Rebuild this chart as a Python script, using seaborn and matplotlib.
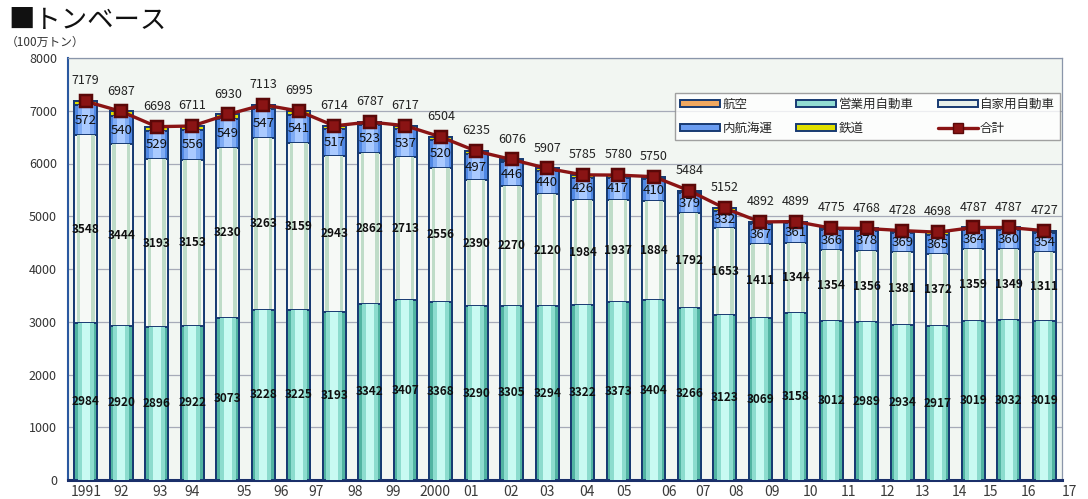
import matplotlib
matplotlib.use("Agg")
import matplotlib.pyplot as plt
from matplotlib.patches import Patch
from matplotlib.lines import Line2D
import seaborn as sns
import numpy as np
import pandas as pd

# ---- data (100万トン) ----
periods = [str(y) for y in range(1991, 2019)]
commercial = [2984, 2920, 2896, 2922, 3073, 3228, 3225, 3193, 3342, 3407, 3368, 3290, 3305, 3294,
              3322, 3373, 3404, 3266, 3123, 3069, 3158, 3012, 2989, 2934, 2917, 3019, 3032, 3019]
private = [3548, 3444, 3193, 3153, 3230, 3263, 3159, 2943, 2862, 2713, 2556, 2390, 2270, 2120,
           1984, 1937, 1884, 1792, 1653, 1411, 1344, 1354, 1356, 1381, 1372, 1359, 1349, 1311]
coastal = [572, 540, 529, 556, 549, 547, 541, 517, 523, 537, 520, 497, 446, 440,
           426, 417, 410, 379, 332, 367, 361, 366, 378, 369, 365, 364, 360, 354]
railway = [74, 82, 79, 79, 77, 74, 69, 60, 59, 59, 59, 57, 54, 52,
           52, 52, 51, 46, 43, 44, 35, 42, 44, 43, 43, 44, 45, 42]
air = [1] * 28
total = [7179, 6987, 6698, 6711, 6930, 7113, 6995, 6714, 6787, 6717, 6504, 6235, 6076, 5907,
         5785, 5780, 5750, 5484, 5152, 4892, 4899, 4775, 4768, 4728, 4698, 4787, 4787, 4727]

xtick_labels = ["1991", "92", "93", "94", "95", "96", "97", "98", "99", "2000", "01", "02", "03",
                "04", "05", "06", "07", "08", "09", "10", "11", "12", "13", "14", "15", "16", "17"]
xtick_pos = [0.0, 1.0, 2.1, 3.0, 4.45, 5.5, 6.5, 7.6, 8.67, 9.85, 10.84, 11.97, 13.0,
             14.13, 15.16, 16.44, 17.38, 18.31, 19.34, 20.42, 21.5, 22.59, 23.57, 24.6,
             25.49, 26.57, 27.7]

df = pd.DataFrame({"period": periods, "commercial": commercial, "private": private,
                   "coastal": coastal, "railway": railway, "air": air, "total": total})

sns.set_style("white")
plt.rcParams["font.family"] = ["Noto Sans CJK JP", "DejaVu Sans"]

fig = plt.figure(figsize=(10.88, 4.99), dpi=100)
ax = fig.add_axes([68 / 1088, 19 / 499, 994 / 1088, 422 / 499])
ax.set_facecolor("#f2f6f2")

EDGE = "#173a72"
BW = 0.64

# stacked layers drawn top-down as cumulative heights; each with a lighter inner band
layers = [
    ("air", "#f0a860", [("#f7c890", 0.35)]),
    ("railway", "#e0e000", [("#f4f460", 0.35)]),
    ("coastal", "#5088e4", [("#80acf4", 0.46), ("#aacaff", 0.22)]),
    ("private", "#f6f9f6", [("#bfdcc8", 0.50), ("#f6f9f6", 0.30)]),
    ("commercial", "#52b4a2", [("#8cdcce", 0.46), ("#c8faf2", 0.22)]),
]
order = ["commercial", "private", "coastal", "railway", "air"]
z = 2
for name, base, bands in layers:
    cols = order[: order.index(name) + 1]
    cum = df[cols].sum(axis=1)
    sns.barplot(x=df["period"], y=cum, color=base, saturation=1, width=BW,
                edgecolor=EDGE, linewidth=1.4, errorbar=None, ax=ax, zorder=z)
    z += 1
    for col, w in bands:
        sns.barplot(x=df["period"], y=cum, color=col, saturation=1, width=w,
                    linewidth=0, errorbar=None, ax=ax, zorder=z)
        z += 1

# total line
sns.pointplot(x=df["period"], y=df["total"], color="#8a1414", marker="s", markersize=9,
              linewidth=2.4, markeredgecolor="#5a0808", errorbar=None, ax=ax, zorder=z + 5)

# value labels
for i in range(len(df)):
    c, p, s, t = commercial[i], private[i], coastal[i], total[i]
    ax.text(i, c / 2, f"{c}", ha="center", va="center", fontsize=8.5, fontweight="bold",
            color="#101010", zorder=z + 10)
    ax.text(i, c + p / 2, f"{p}", ha="center", va="center", fontsize=8.5, fontweight="bold",
            color="#101010", zorder=z + 10)
    ax.text(i, c + p + s / 2, f"{s}", ha="center", va="center", fontsize=9.5,
            color="#101010", zorder=z + 10)
    ax.annotate(f"{t}", (i, t), xytext=(0, 10), textcoords="offset points", ha="center",
                va="bottom", fontsize=9, color="#222222", zorder=z + 10,
                annotation_clip=False)

ax.set_xlim(-0.5, 27.5)
ax.set_ylim(0, 8000)
ax.set_yticks(range(0, 8001, 1000))
ax.set_yticklabels([str(v) for v in range(0, 8001, 1000)], fontsize=9, color="#333333")
ax.tick_params(axis="y", length=0, pad=8)
ax.set_xticks([])
ax.set_xlabel("")
ax.set_ylabel("")
ax.yaxis.grid(True, color="#a6aab8", linewidth=0.9)
ax.set_axisbelow(True)

for i, lab in zip(xtick_pos, xtick_labels):
    ax.text(i, -0.012, lab, transform=ax.get_xaxis_transform(), ha="center", va="top",
            fontsize=10, color="#3a3a3a", clip_on=False)

ax.spines["left"].set_color("#2a58a0")
ax.spines["left"].set_linewidth(1.5)
ax.spines["bottom"].set_color("#1a2f6a")
ax.spines["bottom"].set_linewidth(2.2)
for sp in ("top", "right"):
    ax.spines[sp].set_color("#8a96aa")
    ax.spines[sp].set_linewidth(0.9)

# legend
def bar_handle(col):
    return Patch(facecolor=col, edgecolor=EDGE, linewidth=1.4)

handles = [bar_handle("#f0a860"), bar_handle("#6a9cf0"), bar_handle("#92ddd2"),
           bar_handle("#e0e000"), bar_handle("#e8f0ea"),
           Line2D([], [], color="#8a1414", lw=2.4, marker="s", markersize=7,
                  markeredgecolor="#5a0808")]
labels = ["航空", "内航海運", "営業用自動車", "鉄道", "自家用自動車", "合計"]
leg = ax.legend(handles, labels, ncol=3, loc="lower left",
                bbox_to_anchor=(0.611, 0.806, 0.387, 0.123), mode="expand",
                fontsize=9, frameon=True, fancybox=False, edgecolor="#8a8a8a",
                handlelength=3.2, handleheight=0.45, handletextpad=0.2,
                borderaxespad=0, columnspacing=1.0, labelspacing=0.9)
leg.get_frame().set_linewidth(1.0)
leg.set_zorder(100)

# titles
fig.text(8 / 1088, 1 - 20 / 499, "■トンベース", fontsize=19, va="center", ha="left",
         color="#111111")
fig.text(6 / 1088, 1 - 42 / 499, "（100万トン）", fontsize=8.5, va="center", ha="left",
         color="#333333")

fig.savefig("out.png", dpi=100)
